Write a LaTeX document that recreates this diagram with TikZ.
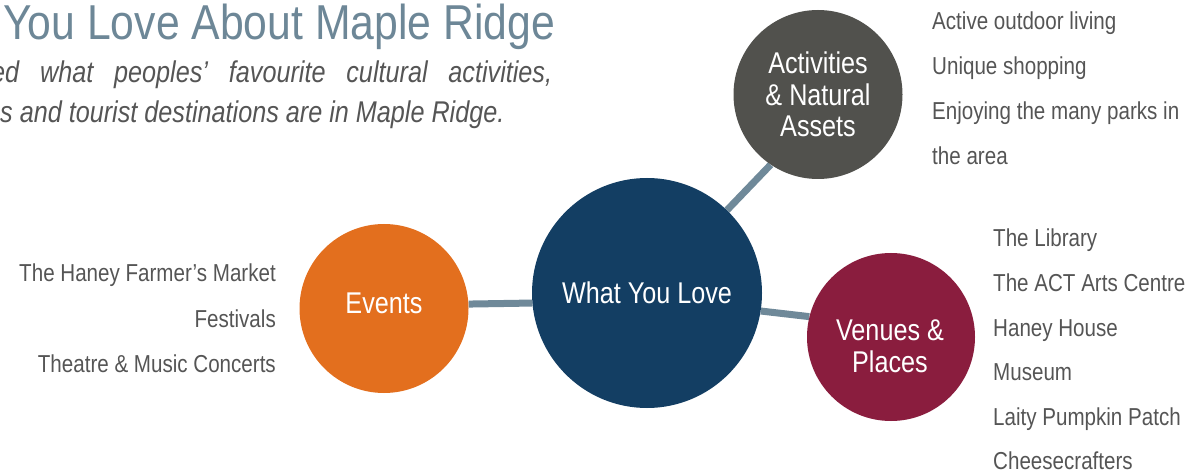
\documentclass[tikz,border=0pt]{standalone}
\usepackage{fontspec}
\setmainfont[FakeStretch=0.84]{Liberation Sans}
\usetikzlibrary{backgrounds}
\definecolor{navy}{RGB}{19,62,99}
\definecolor{evorange}{RGB}{227,111,30}
\definecolor{maroon}{RGB}{138,29,62}
\definecolor{darkgrey}{RGB}{81,81,77}
\definecolor{linkc}{RGB}{111,137,153}
\definecolor{titlec}{RGB}{109,135,151}
\definecolor{txtgrey}{RGB}{85,85,85}
\begin{document}
\begin{tikzpicture}[x=1pt,y=-1pt,
  bubble/.style={circle, inner sep=0pt, draw=none},
  lbl/.style={text=white, font=\fontsize{30}{32}\selectfont, inner sep=0pt, anchor=base},
  item/.style={text=txtgrey, font=\fontsize{24.5}{29}\selectfont, inner sep=0pt},
  link/.style={draw=linkc, line width=7pt}]
\useasboundingbox (0,0) rectangle (1200,473);
% title
\node[text=titlec, font=\fontsize{49}{55}\selectfont, inner sep=0pt, anchor=base west] (title) at (3,40) {\scalebox{1.038}[1]{You Love About Maple Ridge}};
\node[text=txtgrey, font=\fontsize{30}{36}\selectfont\itshape, inner sep=0pt, anchor=base west] (sub1) at (-9,83) {\makebox[561pt][s]{ed what peoples’ favourite cultural activities,}};
\node[text=txtgrey, font=\fontsize{30}{36}\selectfont\itshape, inner sep=0pt, anchor=base west] (sub2) at (0,123) {s and tourist destinations are in Maple Ridge.};
% bubbles
\node[bubble, fill=navy, minimum size=230pt] (wyl) at (647,293) {};
\node[bubble, fill=evorange, minimum size=169pt] (ev) at (384,308.5) {};
\node[bubble, fill=maroon, minimum size=168pt] (ven) at (891,337) {};
\node[bubble, fill=darkgrey, minimum size=169pt] (act) at (818,94.5) {};
% bubble labels
\node[lbl] (wylt) at (647,303) {What You Love};
\node[lbl] (evt) at (384,313) {Events};
\node[lbl] (vent1) at (890,340) {Venues \&};
\node[lbl] (vent2) at (890,372) {Places};
\node[lbl] (actt1) at (818,74) {Activities};
\node[lbl] (actt2) at (818,106) {\& Natural};
\node[lbl] (actt3) at (818,137) {Assets};
% connectors
\begin{scope}[on background layer]
\draw[link] (ev.3) -- (wyl.185);
\draw[link] (wyl.-9.4) -- (ven.166.5);
\draw[link] (wyl.46) -- (act.236);
\end{scope}
% activities list
\node[item, anchor=base west] (a1) at (932,30) {Active outdoor living};
\node[item, anchor=base west] (a2) at (932,75) {Unique shopping};
\node[item, anchor=base west] (a3) at (932,120) {Enjoying the many parks in};
\node[item, anchor=base west] (a4) at (932,165) {the area};
% events list
\node[item, anchor=base east] (e1) at (276,282) {The Haney Farmer’s Market};
\node[item, anchor=base east] (e2) at (276,327) {Festivals};
\node[item, anchor=base east] (e3) at (276,372) {Theatre \& Music Concerts};
% venues list
\node[item, anchor=base west] (v1) at (993,247) {The Library};
\node[item, anchor=base west] (v2) at (993,291.5) {The ACT Arts Centre};
\node[item, anchor=base west] (v3) at (993,336) {Haney House};
\node[item, anchor=base west] (v4) at (993,380.5) {Museum};
\node[item, anchor=base west] (v5) at (993,425) {Laity Pumpkin Patch};
\node[item, anchor=base west] (v6) at (993,469.5) {Cheesecrafters};
\end{tikzpicture}
\end{document}
